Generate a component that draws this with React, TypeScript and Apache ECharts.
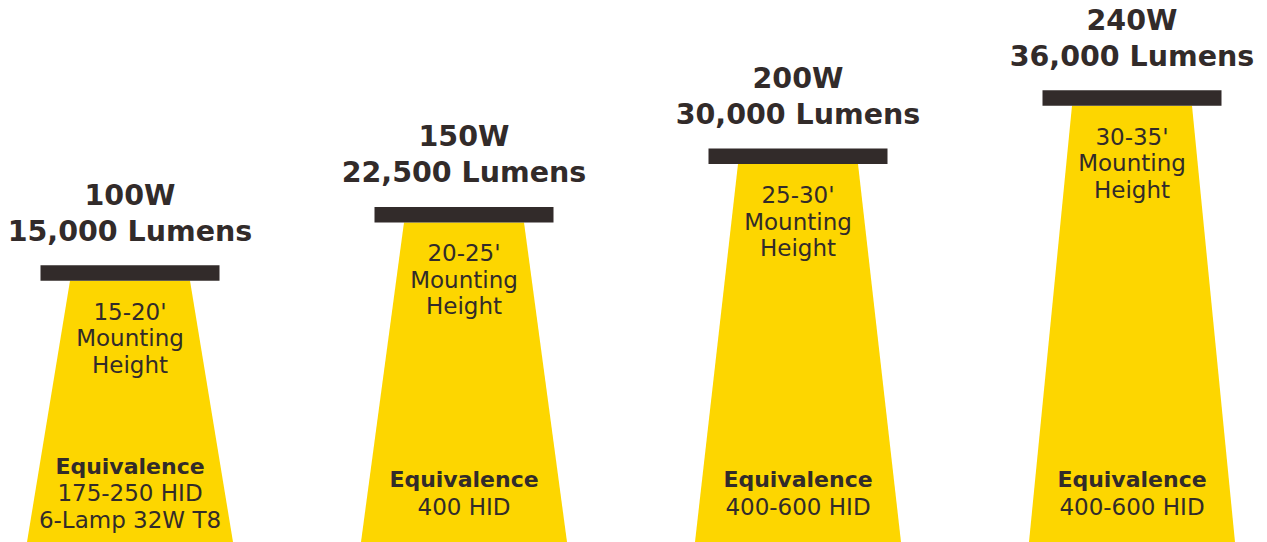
import React, { useEffect, useRef } from "react";
import * as echarts from "echarts";

// ---- data ----
const wattages = ["100W", "150W", "200W", "240W"];
const lumens = [15000, 22500, 30000, 36000];
const mountMin = [15, 20, 25, 30];
const mountMax = [20, 25, 30, 35];
const equivalence = [
  ["175-250 HID", "6-Lamp 32W T8"],
  ["400 HID"],
  ["400-600 HID"],
  ["400-600 HID"],
];

const DARK = "#322b2a";
const YELLOW = "#fdd600";
const FONT = "'DejaVu Sans', sans-serif";

export default function App() {
  const ref = useRef<HTMLDivElement>(null);
  useEffect(() => {
    if (!ref.current) return;
    const chart = echarts.init(ref.current, null, { renderer: "svg" });
    const data = wattages.map((_, i) => [i, mountMax[i]]);
    chart.setOption({
      animation: false,
      backgroundColor: "#ffffff",
      grid: { left: 130, right: 135, top: 32, bottom: 43.6 },
      xAxis: { type: "value", min: 0, max: 3, show: false },
      yAxis: { type: "value", min: 0, max: 40, show: false },
      series: [
        {
          type: "custom",
          data,
          renderItem: (params: any, api: any) => {
            const i = api.value(0);
            const h = api.value(1);
            const [cx, top] = api.coord([i, h]);
            const H = api.getHeight();
            const barH = 15.5;
            const bb = top + barH;
            const eq = equivalence[i];
            const children: any[] = [
              {
                type: "polygon",
                shape: {
                  points: [
                    [cx - 60, bb],
                    [cx + 60, bb],
                    [cx + 103, H],
                    [cx - 103, H],
                  ],
                },
                style: { fill: YELLOW },
              },
              {
                type: "rect",
                shape: { x: cx - 89.5, y: top, width: 179, height: barH },
                style: { fill: DARK },
              },
              {
                type: "text",
                x: cx,
                y: top - 70,
                style: {
                  text: wattages[i],
                  fill: DARK,
                  fontFamily: FONT,
                  fontWeight: "bold",
                  fontSize: 28.5,
                  align: "center",
                  verticalAlign: "middle",
                },
              },
              {
                type: "text",
                x: cx,
                y: top - 34,
                style: {
                  text: lumens[i].toLocaleString("en-US") + " Lumens",
                  fill: DARK,
                  fontFamily: FONT,
                  fontWeight: "bold",
                  fontSize: 28.5,
                  align: "center",
                  verticalAlign: "middle",
                },
              },
              {
                type: "text",
                x: cx,
                y: bb + 57.5,
                style: {
                  text: mountMin[i] + "-" + mountMax[i] + "'\nMounting\nHeight",
                  fill: DARK,
                  fontFamily: FONT,
                  fontSize: 23,
                  lineHeight: 26.5,
                  align: "center",
                  verticalAlign: "middle",
                },
              },
              {
                type: "text",
                x: cx,
                y: 493 - ((eq.length + 1) * 27) / 2 + 13.5,
                style: {
                  text: "Equivalence",
                  fill: DARK,
                  fontFamily: FONT,
                  fontWeight: "bold",
                  fontSize: 22,
                  align: "center",
                  verticalAlign: "middle",
                },
              },
              {
                type: "text",
                x: cx,
                y: 493 - ((eq.length + 1) * 27) / 2 + 27 + (eq.length * 27) / 2,
                style: {
                  text: eq.join("\n"),
                  fill: DARK,
                  fontFamily: FONT,
                  fontSize: 23,
                  lineHeight: 27,
                  align: "center",
                  verticalAlign: "middle",
                },
              },
            ];
            return { type: "group", children };
          },
        },
      ],
    });
    return () => chart.dispose();
  }, []);
  return (
    <div
      ref={ref}
      style={{ position: "absolute", left: 0, top: 0, width: 1267, height: 542 }}
    />
  );
}
